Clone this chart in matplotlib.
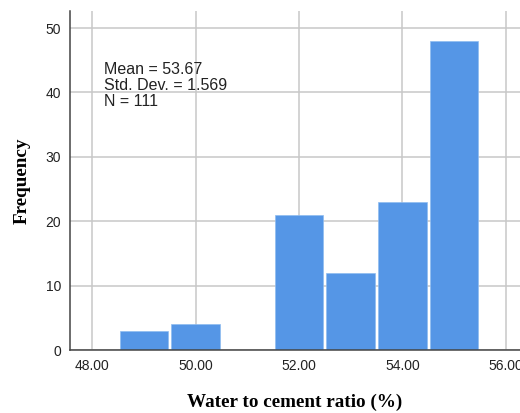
import matplotlib
matplotlib.use("Agg")
import matplotlib.pyplot as plt

bin_centers = [49, 50, 51, 52, 53, 54, 55]
frequencies = [3, 4, 0, 21, 12, 23, 48]
x_ticks = [48, 50, 52, 54, 56]
x_tick_labels = ["48.00", "50.00", "52.00", "54.00", "56.00"]
y_ticks = [0, 10, 20, 30, 40, 50]
stats_lines = ["Mean = 53.67", "Std. Dev. = 1.569", "N = 111"]

fig = plt.figure(figsize=(5.2, 4.13), dpi=100)
ax = fig.add_axes([69.5/520, 1-350/413, 1-69.5/520, (350-11)/413])

ax.bar(bin_centers, frequencies, width=0.94, color="#5596E6",
       edgecolor="#8fbcf0", linewidth=0.5, zorder=3)

ax.set_xlim(47.559, 56.277)
ax.set_ylim(0, 52.64)
ax.set_xticks(x_ticks)
ax.set_xticklabels(x_tick_labels)
ax.set_yticks(y_ticks)
ax.grid(True, color="#c8c8c8", linewidth=1.1, zorder=0)
ax.tick_params(length=0, labelsize=10, labelcolor="#222222", pad=6,
               labelfontfamily="Liberation Sans")
ax.tick_params(axis="x", pad=6.5)
for s in ["top", "right"]:
    ax.spines[s].set_visible(False)
for s in ["left", "bottom"]:
    ax.spines[s].set_color("#444444")
    ax.spines[s].set_linewidth(1.1)
    ax.spines[s].set_zorder(4)

ax.set_xlabel("Water to cement ratio (%)", fontfamily="Liberation Serif",
              fontweight="bold", fontsize=13.8, labelpad=15)
ax.set_ylabel("Frequency", fontfamily="Liberation Serif",
              fontweight="bold", fontsize=13.8, labelpad=11)

ypix = [70, 86, 102]
for line, yp in zip(stats_lines, ypix):
    ax.text((104-69.5)/450.5, (350-yp)/339, line, transform=ax.transAxes,
            fontfamily="Liberation Sans", fontsize=11.5, color="#222222",
            va="center", ha="left", zorder=5)

fig.savefig("out.png", dpi=100)
